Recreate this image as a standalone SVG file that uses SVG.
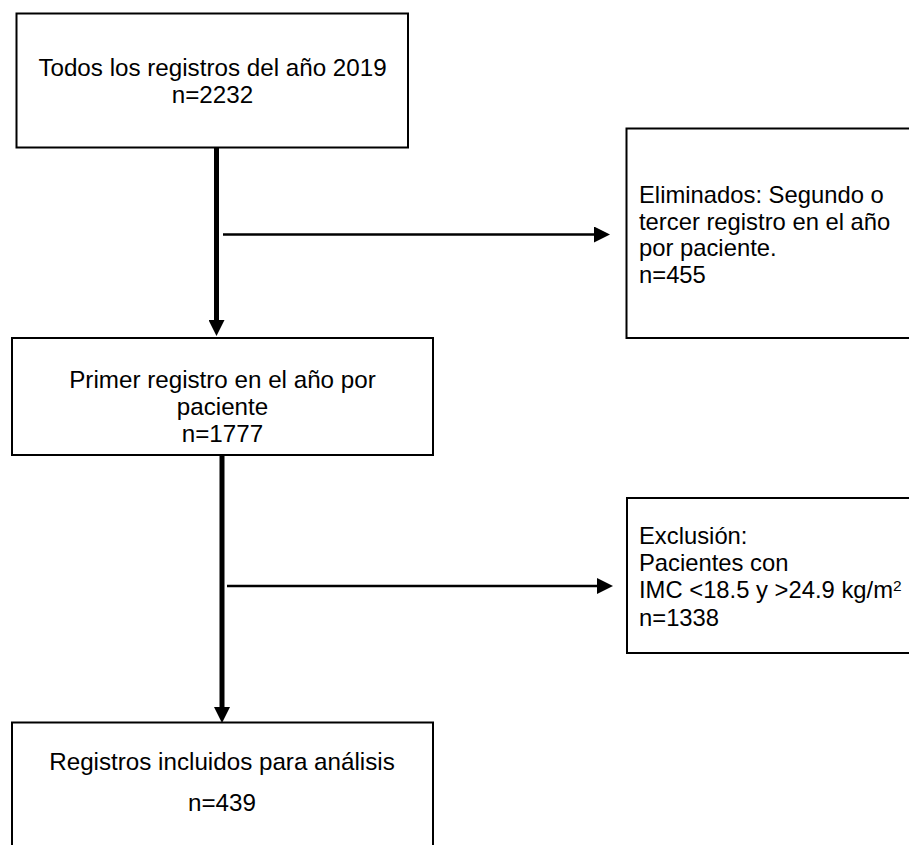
<svg xmlns="http://www.w3.org/2000/svg" width="909" height="845" viewBox="0 0 909 845">
  <style>
    .box { fill: #ffffff; stroke: #000000; stroke-width: 2; }
    .t { font-family: "Liberation Sans", Arial, sans-serif; font-size: 23.8px; fill: #000000; }
    .c { text-anchor: middle; font-size: 24.2px; }
    .thick { stroke: #000000; stroke-width: 5; fill: none; }
    .thin { stroke: #000000; stroke-width: 2.5; fill: none; }
  </style>
  <defs>
    <marker id="headV" markerUnits="userSpaceOnUse" markerWidth="16" markerHeight="16" viewBox="0 0 15 15" refX="0" refY="7.5" orient="auto">
      <path d="M0,0 L15,7.5 L0,15 Z" fill="#000000"/>
    </marker>
    <marker id="headH" markerUnits="userSpaceOnUse" markerWidth="16" markerHeight="16" viewBox="0 0 16 16" refX="0" refY="8" orient="auto">
      <path d="M0,0 L16,8 L0,16 Z" fill="#000000"/>
    </marker>
  </defs>

  <g id="connectors">
    <line class="thick" x1="216.5" y1="148" x2="216.5" y2="320" marker-end="url(#headV)"/>
    <line class="thin" x1="223" y1="234.5" x2="594" y2="234.5" marker-end="url(#headH)"/>
    <line class="thick" x1="222" y1="455" x2="222" y2="707" marker-end="url(#headV)"/>
    <line class="thin" x1="227" y1="586" x2="597" y2="586" marker-end="url(#headH)"/>
  </g>

  <g id="node-todos">
    <rect class="box" x="16.5" y="13.5" width="391.5" height="134"/>
    <text class="t c" x="212.5" y="76">Todos los registros del año 2019</text>
    <text class="t c" x="212.5" y="103">n=2232</text>
  </g>

  <g id="node-eliminados">
    <rect class="box" x="626.5" y="128.5" width="300" height="209.5"/>
    <text class="t" x="639" y="202.5">Eliminados: Segundo o</text>
    <text class="t" x="639" y="229.5">tercer registro en el año</text>
    <text class="t" x="639" y="256">por paciente.</text>
    <text class="t" x="639" y="282.5">n=455</text>
  </g>

  <g id="node-primer">
    <rect class="box" x="12" y="338" width="421" height="117"/>
    <text class="t c" x="222.5" y="387.5">Primer registro en el año por</text>
    <text class="t c" x="222.5" y="414.5">paciente</text>
    <text class="t c" x="222.5" y="441.5">n=1777</text>
  </g>

  <g id="node-exclusion">
    <rect class="box" x="627" y="498" width="300" height="155"/>
    <text class="t" x="639" y="543.5">Exclusión:</text>
    <text class="t" x="639" y="571">Pacientes con</text>
    <text class="t" x="639" y="598">IMC &lt;18.5 y &gt;24.9 kg/m<tspan font-size="15.5" dy="-7">2</tspan></text>
    <text class="t" x="639" y="626">n=1338</text>
  </g>

  <g id="node-incluidos">
    <rect class="box" x="12" y="722.5" width="421" height="140"/>
    <text class="t c" x="222" y="770">Registros incluidos para análisis</text>
    <text class="t c" x="222" y="811">n=439</text>
  </g>
</svg>
